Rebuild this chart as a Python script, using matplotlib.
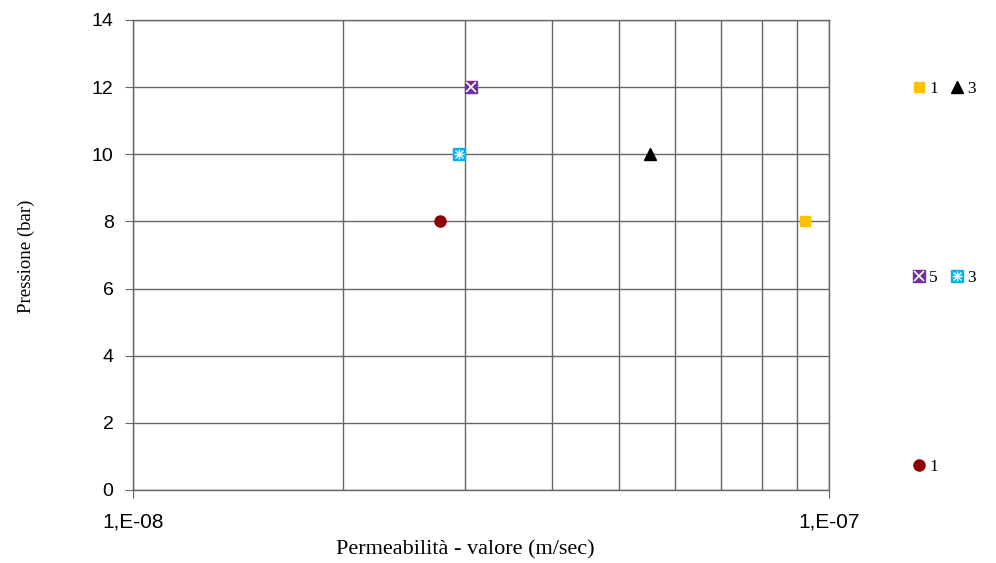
import matplotlib
matplotlib.use('Agg')
import numpy as np
from matplotlib import pyplot as plt
from matplotlib.legend_handler import HandlerTuple
from matplotlib.ticker import FixedLocator, NullFormatter

# data
perm_1 = [9.25e-8]      # gold square, label "1"
press_1 = [8]
perm_3 = [5.53e-8]      # black triangle, label "3"
press_3 = [10]
perm_5 = [3.06e-8]      # purple square with x, label "5"
press_5 = [12]
perm_3b = [2.94e-8]     # cyan square with asterisk, label "3"
press_3b = [10]
perm_1b = [2.76e-8]     # dark red circle, label "1"
press_1b = [8]

x_ticks = [1e-8, 1e-7]
x_ticklabels = ['1,E-08', '1,E-07']
y_ticks = [0, 2, 4, 6, 8, 10, 12, 14]

gold = '#FFC000'
purple = '#7030A0'
cyan = '#00B0F0'
darkred = '#8B0000'
gridc = '#666666'

fig = plt.figure(figsize=(9.96, 5.63), dpi=100)
ax = fig.add_axes([133/996, 1 - 490/563, (829-133)/996, (490-20)/563])

ax.set_xscale('log')
ax.set_xlim(1e-8, 1e-7)
ax.set_ylim(0, 14)

ax.xaxis.set_major_locator(FixedLocator(x_ticks))
ax.set_xticklabels(x_ticklabels)
ax.xaxis.set_minor_locator(FixedLocator(np.arange(2, 10) * 1e-8))
ax.xaxis.set_minor_formatter(NullFormatter())
ax.set_yticks(y_ticks)

ax.grid(True, which='both', axis='x', color=gridc, lw=1)
ax.grid(True, which='major', axis='y', color=gridc, lw=1)
ax.set_axisbelow(True)
for s in ax.spines.values():
    s.set_color(gridc)
    s.set_linewidth(1)

ax.tick_params(axis='both', which='major', direction='out', length=6, color=gridc)
ax.tick_params(axis='y', which='major', pad=8, labelsize=14)
ax.tick_params(axis='x', which='major', pad=10, labelsize=15)
ax.tick_params(axis='x', which='minor', length=0)
for lab in ax.get_xticklabels() + ax.get_yticklabels():
    lab.set_family('Liberation Sans')

ms = 7
h1, = ax.plot(perm_1, press_1, ls='none', marker='s', ms=ms, mfc=gold, mec=gold)
h3, = ax.plot(perm_3, press_3, ls='none', marker='^', ms=ms+1, mfc='black', mec='black')
h5a, = ax.plot(perm_5, press_5, ls='none', marker='s', ms=ms+1.5, mfc=purple, mec=purple)
h5b, = ax.plot(perm_5, press_5, ls='none', marker='x', ms=ms-0.5, mec='white', mew=1.2)
h3a, = ax.plot(perm_3b, press_3b, ls='none', marker='s', ms=ms+1, mfc=cyan, mec=cyan)
h3b, = ax.plot(perm_3b, press_3b, ls='none', marker='x', ms=ms-1, mec='white', mew=1.0)
h3c, = ax.plot(perm_3b, press_3b, ls='none', marker='+', ms=ms, mec='white', mew=1.0)
h1b, = ax.plot(perm_1b, press_1b, ls='none', marker='o', ms=ms+1, mfc=darkred, mec=darkred)

ax.set_xlabel('Permeabilità - valore (m/sec)', family='Liberation Serif', fontsize=16,
              va='center')
ax.xaxis.set_label_coords((465 - 133) / 696, (490 - 550) / 470)
ax.set_ylabel('Pressione (bar)', family='Liberation Serif', fontsize=13.5,
              va='center')
ax.yaxis.set_label_coords((26 - 133) / 696, (490 - 256) / 470)

leg_kw = dict(frameon=False, prop={'family': 'Liberation Serif', 'size': 12.5},
              handlelength=0.8, handletextpad=0.2, columnspacing=0.7,
              borderpad=0, handler_map={tuple: HandlerTuple(ndivide=1)},
              loc='center left')
fig.legend([h1, h3], ['1', '3'], ncol=2, bbox_to_anchor=(903/996, 1 - 89/563), **leg_kw)
fig.legend([(h5a, h5b), (h3a, h3b, h3c)], ['5', '3'], ncol=2,
           bbox_to_anchor=(903/996, 1 - 278/563), **leg_kw)
fig.legend([h1b], ['1'], ncol=1, bbox_to_anchor=(903/996, 1 - 467/563), **leg_kw)

fig.savefig('out.png', dpi=100)
